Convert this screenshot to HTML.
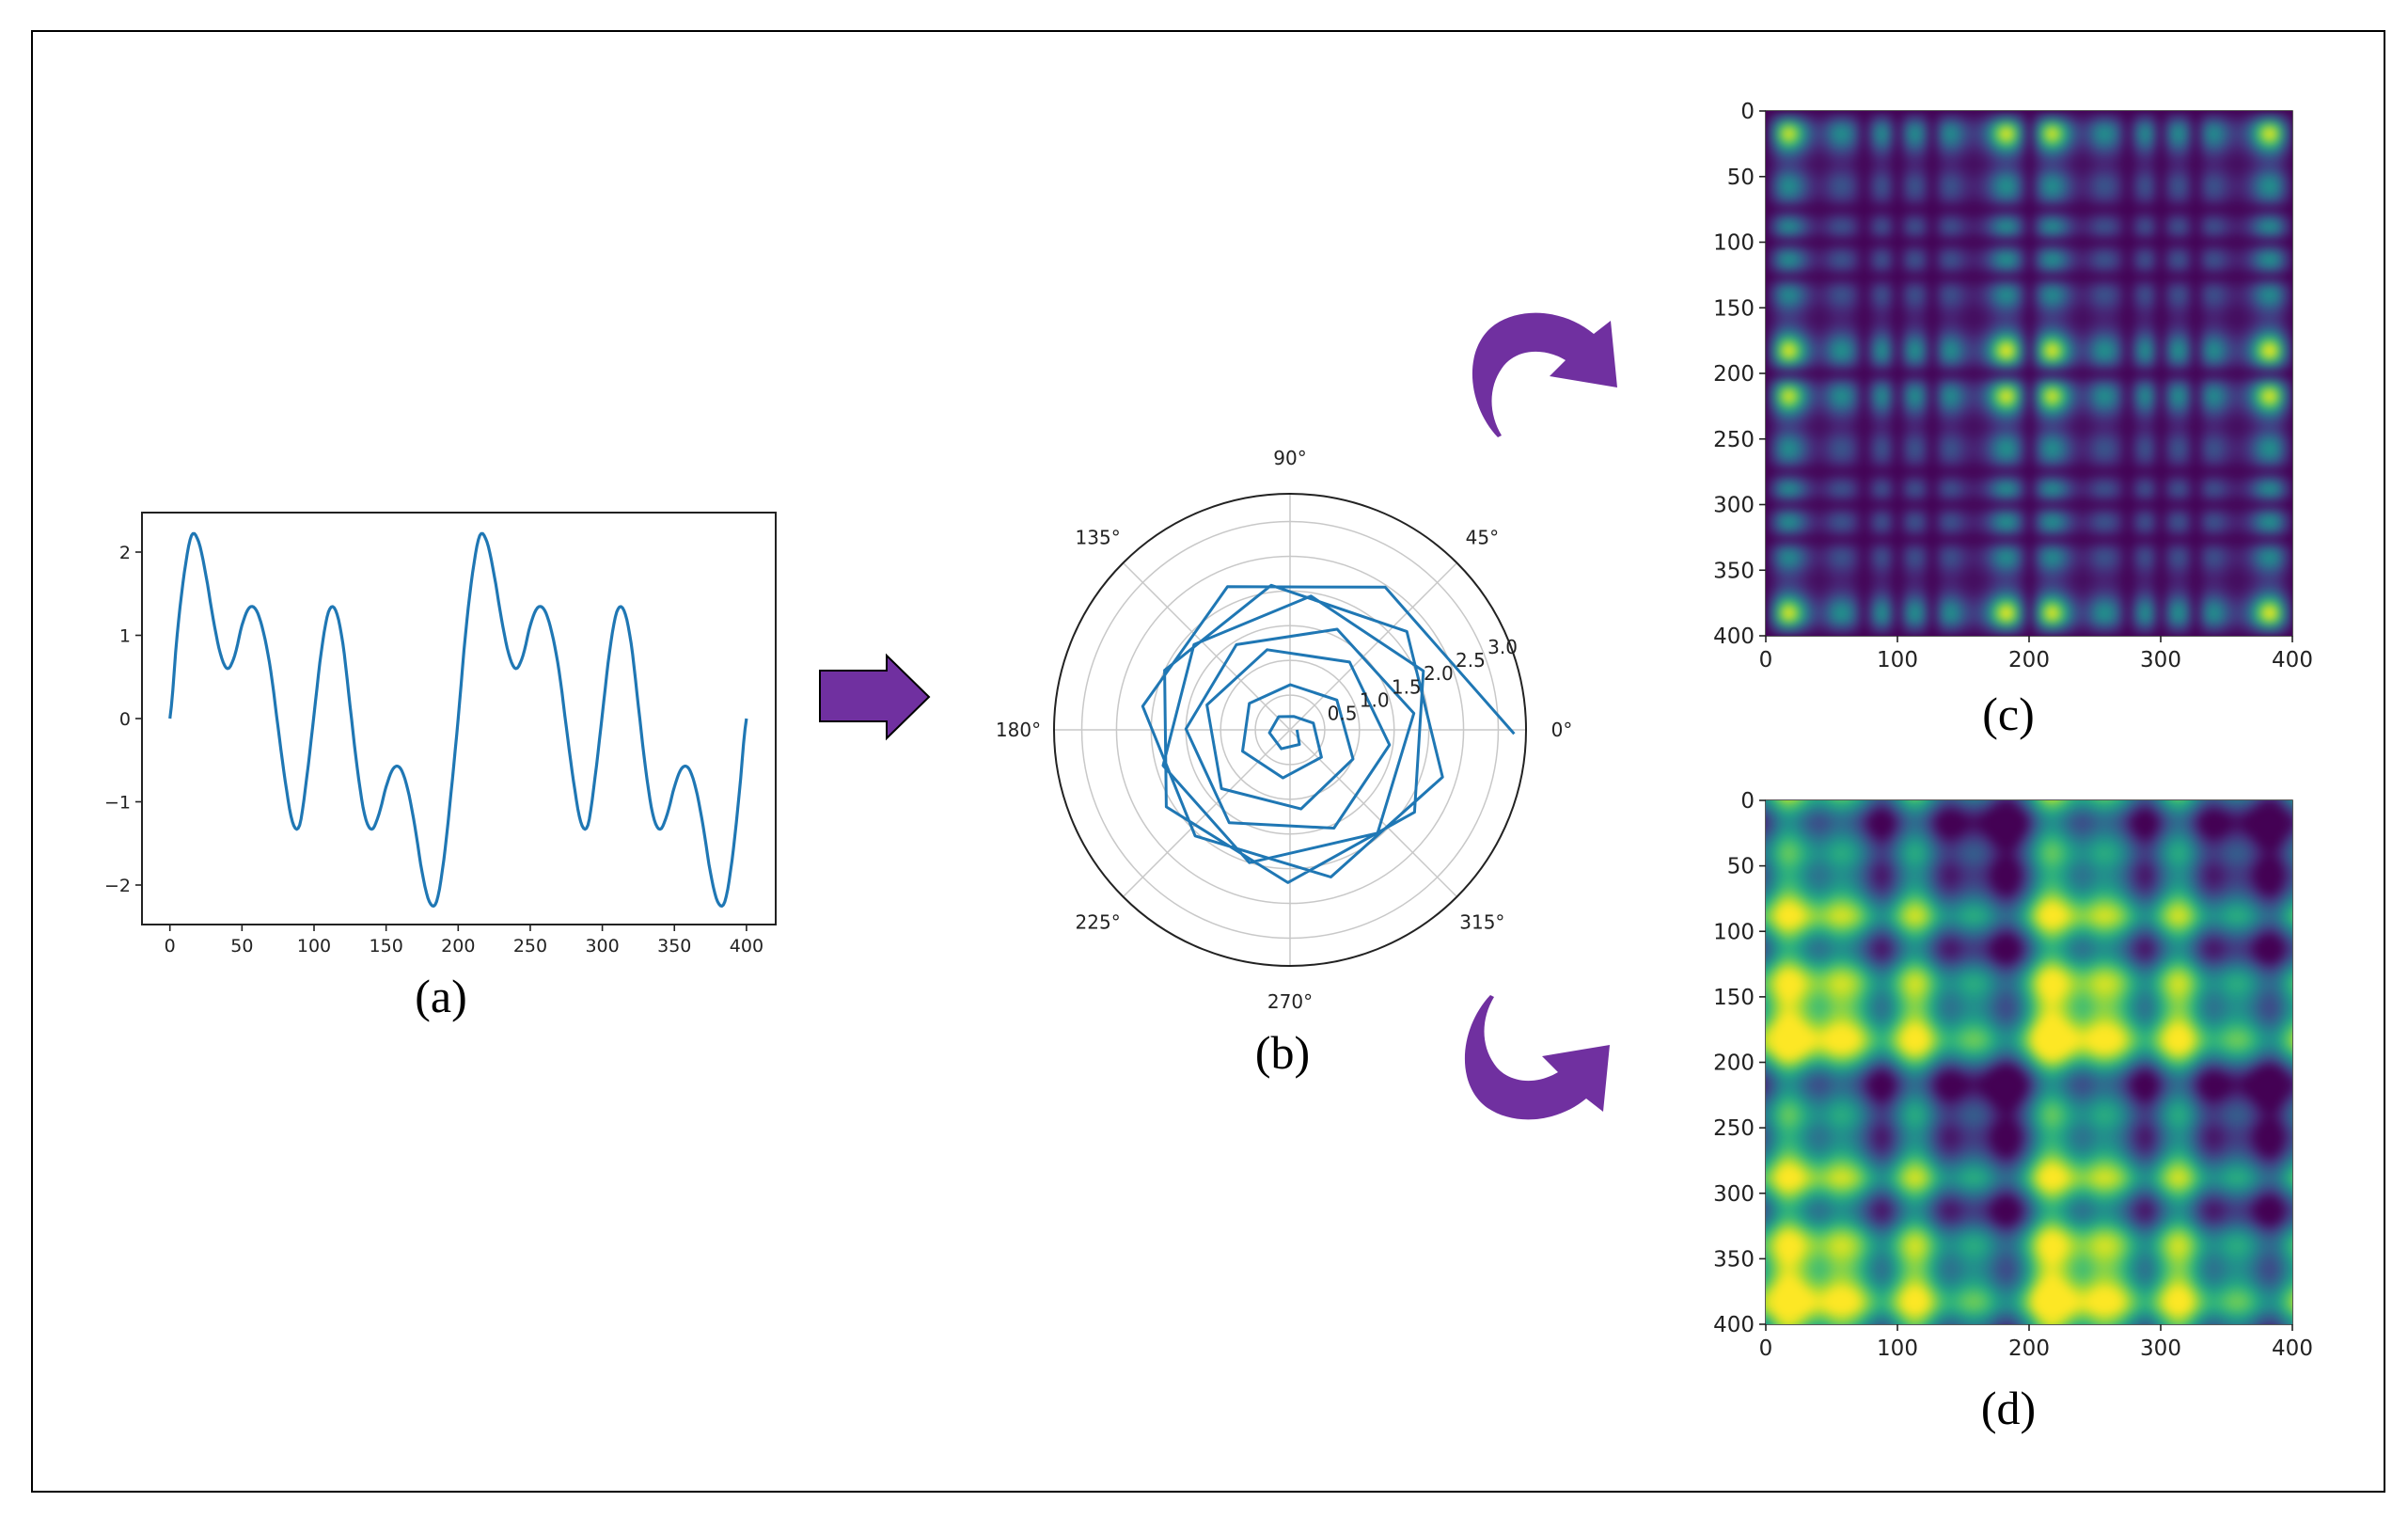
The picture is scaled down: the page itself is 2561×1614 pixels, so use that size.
<!DOCTYPE html>
<html><head><meta charset="utf-8">
<style>
html,body{margin:0;padding:0;background:#fff;}
body{width:2561px;height:1614px;position:relative;overflow:hidden;font-family:"DejaVu Sans","Liberation Sans",sans-serif;}
svg{position:absolute;left:0;top:0;}
canvas{position:absolute;}
</style></head>
<body>
<svg id="fig" width="2561" height="1614" viewBox="0 0 2561 1614">
  <rect x="34" y="33" width="2502" height="1553" fill="none" stroke="#000" stroke-width="2"/>
  <g id="panelA"></g>
  <g id="panelB"></g>
  <g id="panelC"></g>
  <g id="panelD"></g>
  <path d="M872,713 L943,713 L943,697 L988,741 L943,785 L943,767 L872,767 Z" fill="#7030a0" stroke="#000" stroke-width="2"/>
  <path d="M1593,465 C1560,430 1555,370 1590,345 C1620,325 1665,330 1695,355 L1713,341 L1720,412 L1648,400 L1665,383 C1640,368 1610,372 1597,392 C1583,412 1583,440 1597,463 Z" fill="#7030a0"/>
  <path transform="translate(-8,1523) scale(1,-1)" d="M1593,465 C1560,430 1555,370 1590,345 C1620,325 1665,330 1695,355 L1713,341 L1720,412 L1648,400 L1665,383 C1640,368 1610,372 1597,392 C1583,412 1583,440 1597,463 Z" fill="#7030a0"/>
  <text x="469" y="1076" font-family="Liberation Serif, serif" font-size="50" text-anchor="middle">(a)</text>
  <text x="1364" y="1136" font-family="Liberation Serif, serif" font-size="50" text-anchor="middle">(b)</text>
  <text x="2136" y="776" font-family="Liberation Serif, serif" font-size="50" text-anchor="middle">(c)</text>
  <text x="2136" y="1514" font-family="Liberation Serif, serif" font-size="50" text-anchor="middle">(d)</text>
</svg>
<canvas id="cvC" width="560" height="558" style="left:1878px;top:118px;"></canvas>
<canvas id="cvD" width="560" height="557" style="left:1878px;top:851px;"></canvas>
<script>
// ---- data ----
const sigT = [0,5,10,15,20,25,30,35,40,45,50,55,60,65,70,75,80,85,90,95,100,105,110,115,120,125,130,135,140,145,150,155,160,165,170,175,180,185,190,195,
 200,205,210,215,220,225,230,235,240,245,250,255,260,265,270,275,280,285,290,295,300,305,310,315,320,325,330,335,340,345,350,355,360,365,370,375,380,385,390,395,400];
const sigV = [0,1.0,1.75,2.2,2.12,1.72,1.2,0.78,0.6,0.76,1.12,1.33,1.3,1.03,0.57,-0.1,-0.75,-1.24,-1.28,-0.7,0.05,0.8,1.28,1.3,0.9,0.15,-0.6,-1.15,-1.33,-1.15,-0.82,-0.6,-0.6,-0.85,-1.3,-1.85,-2.2,-2.2,-1.7,-0.9,
 0,1.0,1.75,2.2,2.12,1.72,1.2,0.78,0.6,0.76,1.12,1.33,1.3,1.03,0.57,-0.1,-0.75,-1.24,-1.28,-0.7,0.05,0.8,1.28,1.3,0.9,0.15,-0.6,-1.15,-1.33,-1.15,-0.82,-0.6,-0.6,-0.85,-1.3,-1.85,-2.2,-2.2,-1.7,-0.9,0];
const xTicksA = [0,50,100,150,200,250,300,350,400];
const yTicksA = [-2,-1,0,1,2];
const yTickLabelsA = ["\u22122","\u22121","0","1","2"];
const polarTheta = [0,-57.3,-114.6,-171.9,-229.2,-286.5,-343.8,-401.1,-458.4,-515.7,-573,-630.3,-687.5,-744.8,-802.1,-859.4,-916.7,-974,-1031.3,-1088.6,-1145.9,-1203.2,-1260.5,-1317.8,-1375.1,-1432.4,-1489.7,-1547,-1604.3,-1661.6,-1718.9,-1776.2,-1833.5,-1890.8,-1948.1,-2005.4,-2062.6,-2119.9,-2177.2,-2234.5,-2291.8,-2349.1,-2406.4,-2463.7,-2521];
const polarR = [0.1,0.25,0.3,0.3,0.25,0.2,0.35,0.6,0.7,0.75,0.7,0.65,0.8,1.0,1.15,1.3,1.25,1.2,1.3,1.45,1.55,1.6,1.5,1.45,1.6,1.8,1.95,2.0,1.9,1.85,1.95,2.1,2.15,2.2,2.1,2.0,2.1,2.2,2.3,2.2,2.05,2.15,2.25,2.47,3.23];
const rTicks = [0.5,1.0,1.5,2.0,2.5,3.0];
const angTicks = [0,45,90,135,180,225,270,315];
const hmYTicks = [0,50,100,150,200,250,300,350,400];
const hmXTicks = [0,100,200,300,400];

const NS='http://www.w3.org/2000/svg';
function mk(tag, attrs, parent){const e=document.createElementNS(NS,tag);for(const k in attrs)e.setAttribute(k,attrs[k]);parent.appendChild(e);return e;}

// ---- panel A ----
const gA=document.getElementById('panelA');
const ax={l:151,t:545,r:825,b:983};
const xA=t=>180.7+t*1.533;
const yA=v=>764-v*88.5;
mk('rect',{x:ax.l,y:ax.t,width:ax.r-ax.l,height:ax.b-ax.t,fill:'#fff',stroke:'#222','stroke-width':2},gA);
xTicksA.forEach(t=>{
  const l=mk('line',{x1:xA(t),x2:xA(t),y1:ax.b,y2:ax.b+7,stroke:'#222','stroke-width':1.6},gA);
  
  
  const tx=mk('text',{x:xA(t),y:ax.b+29,'font-size':19,'text-anchor':'middle',fill:'#222'},gA);
  tx.textContent=t;
  
  
});
yTicksA.forEach((v,i)=>{
  const l=mk('line',{x1:ax.l-7,x2:ax.l,y1:yA(v),y2:yA(v),stroke:'#222','stroke-width':1.6},gA);
  
  
  const tx=mk('text',{x:ax.l-12,y:yA(v)+7,'font-size':19,'text-anchor':'end',fill:'#222'},gA);
  tx.textContent=yTickLabelsA[i];
  
  
});
function sigAt(t){
  let i=0; while(i<sigT.length-2 && sigT[i+1]<t) i++;
  const p0=sigV[Math.max(i-1,0)],p1=sigV[i],p2=sigV[i+1],p3=sigV[Math.min(i+2,sigV.length-1)];
  const u=(t-sigT[i])/(sigT[i+1]-sigT[i]);
  return 0.5*((2*p1)+(-p0+p2)*u+(2*p0-5*p1+4*p2-p3)*u*u+(-p0+3*p1-3*p2+p3)*u*u*u);
}
let d='';
for(let t=0;t<=400;t+=1){d+=(t?'L':'M')+xA(t).toFixed(1)+','+yA(sigAt(t)).toFixed(1);}
const line=mk('path',{d:d,fill:'none',stroke:'#1f77b4','stroke-width':3.2,'stroke-linejoin':'round'},gA);



// ---- panel B polar ----
const gB=document.getElementById('panelB');
const cx=1372,cy=776,R=251,rmax=3.4;
const rp=r=>r/rmax*R;
rTicks.forEach(r=>{
  const c=mk('circle',{cx:cx,cy:cy,r:rp(r),fill:'none',stroke:'#c8c8c8','stroke-width':1.5},gB);
  
  
});
angTicks.forEach(a=>{
  const rad=a*Math.PI/180;
  const l=mk('line',{x1:cx,y1:cy,x2:cx+R*Math.cos(rad),y2:cy-R*Math.sin(rad),stroke:'#c8c8c8','stroke-width':1.5},gB);
  
  
  const lr=R+38;
  const tx=mk('text',{x:cx+lr*Math.cos(rad),y:cy-lr*Math.sin(rad)+7,'font-size':20,'text-anchor':'middle',fill:'#222'},gB);
  tx.textContent=a+'\u00b0';
  
  
});
const oc=mk('circle',{cx:cx,cy:cy,r:R,fill:'none',stroke:'#222','stroke-width':2},gB);


let pd='';
polarTheta.forEach((th,i)=>{const a=th*Math.PI/180,rr=rp(polarR[i]);pd+=(i?'L':'M')+(cx+rr*Math.cos(a)).toFixed(1)+','+(cy-rr*Math.sin(a)).toFixed(1);});
const pl=mk('path',{d:pd,fill:'none',stroke:'#1f77b4','stroke-width':3,'stroke-linejoin':'round'},gB);


rTicks.forEach(r=>{
  const a=22.5*Math.PI/180, rr=rp(r)+6;
  const tx=mk('text',{x:cx+rr*Math.cos(a),y:cy-rr*Math.sin(a)+6,'font-size':20,fill:'#222'},gB);
  tx.textContent=r.toFixed(1);
  
  
});

// ---- heatmaps ----
const VIR=[[68,1,84],[72,40,120],[62,74,137],[49,104,142],[38,130,142],[31,158,137],[53,183,121],[109,205,89],[180,222,44],[253,231,37]];
function viridis(v){v=Math.max(0,Math.min(1,v));const f=v*(VIR.length-1),i=Math.min(Math.floor(f),VIR.length-2),u=f-i;return VIR[i].map((c,k)=>Math.round(c+(VIR[i+1][k]-c)*u));}
const full=[];for(let t=0;t<400;t++)full.push(sigAt(t));
const vmax=Math.max(...full.map(Math.abs));
function drawHM(id,fn){
  const off=document.createElement('canvas');off.width=400;off.height=400;
  const octx=off.getContext('2d'),img=octx.createImageData(400,400);
  for(let i=0;i<400;i++)for(let j=0;j<400;j++){const c=viridis(fn(full[i],full[j]));const o=(i*400+j)*4;img.data[o]=c[0];img.data[o+1]=c[1];img.data[o+2]=c[2];img.data[o+3]=255;}
  octx.putImageData(img,0,0);
  const cv=document.getElementById(id),ctx=cv.getContext('2d');
  ctx.drawImage(off,0,0,cv.width,cv.height);
  ctx.filter='blur(5px)';
  ctx.drawImage(off,0,0,cv.width,cv.height);
  ctx.filter='none';
}
drawHM('cvC',(a,b)=>Math.pow(Math.abs(a*b)/(vmax*vmax),1.25));
drawHM('cvD',(a,b)=>0.5+(b-a)/6);
function hmAxes(g,L,T,W,H){
  mk('rect',{x:L,y:T,width:W,height:H,fill:'none',stroke:'#222','stroke-width':1.5},g);
  hmYTicks.forEach(v=>{
    const y=T+v/400*H;
    const l=mk('line',{x1:L-7,x2:L,y1:y,y2:y,stroke:'#222','stroke-width':1.6},g);
    
    
    const tx=mk('text',{x:L-12,y:y+8,'font-size':23,'text-anchor':'end',fill:'#222'},g);
    tx.textContent=v;
    
    
  });
  hmXTicks.forEach(v=>{
    const x=L+v/400*W;
    const l=mk('line',{x1:x,x2:x,y1:T+H,y2:T+H+7,stroke:'#222','stroke-width':1.6},g);
    
    
    const tx=mk('text',{x:x,y:T+H+33,'font-size':23,'text-anchor':'middle',fill:'#222'},g);
    tx.textContent=v;
    
    
  });
}
hmAxes(document.getElementById('panelC'),1878,118,560,558);
hmAxes(document.getElementById('panelD'),1878,851,560,557);
</script>
</body></html>
